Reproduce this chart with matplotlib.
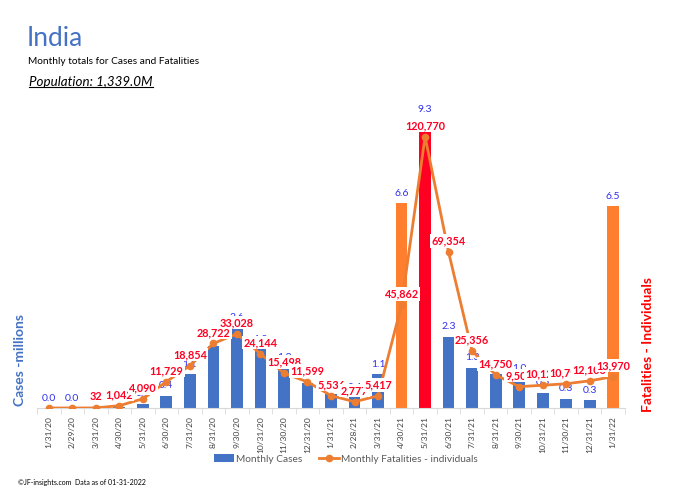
import numpy as np
import matplotlib
matplotlib.use('Agg')
import matplotlib.pyplot as plt
from matplotlib.lines import Line2D

plt.rcParams['font.family'] = ['Lato', 'DejaVu Sans']

# ================= data =================
months = ['1/31/20', '2/29/20', '3/31/20', '4/30/20', '5/31/20', '6/30/20',
          '7/31/20', '8/31/20', '9/30/20', '10/31/20', '11/30/20', '12/31/20',
          '1/31/21', '2/28/21', '3/31/21', '4/30/21', '5/31/21', '6/30/21',
          '7/31/21', '8/31/21', '9/30/21', '10/31/21', '11/30/21', '12/31/21',
          '1/31/22']
cases_m = [0.0, 0.0, 0.0, 0.03, 0.14, 0.4, 1.1, 2.0, 2.6, 1.9, 1.3, 0.8,
           0.45, 0.36, 1.1, 6.6, 9.3, 2.3, 1.3, 1.1, 0.96, 0.5, 0.3, 0.26, 6.5]
deaths = [0, 0, 32, 1042, 4090, 11729, 18854, 28722, 33028, 24144, 15498, 11599,
          5536, 2777, 5417, 45862, 120770, 69354, 25356, 14750, 9502, 10124,
          10794, 12103, 13970]
orange_months = ['4/30/21', '1/31/22']
red_months = ['5/31/21']

# ================= colours =================
BLUE = '#4472C4'
ORANGE_BAR = '#FF7F2F'
RED_BAR = '#FF0022'
LINE = '#ED7D31'
LBL_BLUE = '#3030F0'
LBL_RED = '#FF0022'

bar_colors = []
for m in months:
    if m in red_months:
        bar_colors.append(RED_BAR)
    elif m in orange_months:
        bar_colors.append(ORANGE_BAR)
    else:
        bar_colors.append(BLUE)

x = np.arange(len(months))

fig = plt.figure(figsize=(6.84, 4.96), dpi=100)
ax = fig.add_axes([37/684, 88/496, 588/684, 310/496])
ax2 = ax.twinx()
ax2.set_position([37/684, 88/496, 588/684, 310/496])

bars = ax.bar(x, cases_m, width=0.5, color=bar_colors, label='Monthly Cases', zorder=2)
for xi, v in zip(x, cases_m):
    ax.annotate(f'{v:.1f}', (xi, v), xytext=(0, 7), textcoords='offset points',
                ha='center', va='center', fontsize=7.5, color=LBL_BLUE, zorder=3)

line, = ax2.plot(x, deaths, color=LINE, lw=2, marker='o', markersize=4.5,
                 label='Monthly Fatalities - individuals', zorder=2)
for xi, v in zip(x, deaths):
    if v > 0:
        ax2.annotate(f'{v:,}', (xi, v), xytext=(0, 8), textcoords='offset points',
                     ha='center', va='center', fontsize=7.8, color=LBL_RED,
                     fontweight='bold', zorder=4,
                     bbox=dict(boxstyle='square,pad=0.12', fc='white', ec='none'))

ax.set_xlim(-0.5, len(months) - 0.5)
ax.set_ylim(0, 10)
ax2.set_ylim(0, 138000)

ax.set_xticks(x)
ax.set_xticklabels(months, rotation=90, fontsize=6.0, color='#404040')
ax.set_xticks(np.arange(-0.5, len(months), 1), minor=True)
ax.tick_params(axis='x', which='major', length=0, pad=6)
ax.tick_params(axis='x', which='minor', length=4, color='#D9D9D9')
ax.set_yticks([])
ax2.set_yticks([])
for a in (ax, ax2):
    for s in ('top', 'left', 'right'):
        a.spines[s].set_visible(False)
ax.spines['bottom'].set_color('#D9D9D9')
ax2.spines['bottom'].set_visible(False)

# ================= text =================
fig.text(27/684, 1 - 39/496, 'India', fontsize=19, color=BLUE, va='center', ha='left')
fig.text(28/684, 1 - 61/496, 'Monthly totals for Cases and Fatalities', fontsize=7.3,
         color='black', va='center', ha='left')
pop = fig.text(29/684, 1 - 82/496, 'Population: 1,339.0M', fontsize=9.6, style='italic',
               color='black', va='center', ha='left')

fig.text(20/684, 1 - 360/496, 'Cases -millions', rotation=90, fontsize=10,
         fontweight='bold', color=BLUE, va='center', ha='center')
fig.text(648/684, 1 - 344/496, 'Fatalities - Individuals', rotation=90, fontsize=10,
         fontweight='bold', color='#FF0000', va='center', ha='center')

fig.legend(handles=[bars, line], loc='center', bbox_to_anchor=(346/684, 1 - 459/496),
           ncol=2, frameon=False, fontsize=7.3, labelcolor='#595959',
           handlelength=2.0, handletextpad=0.2, columnspacing=1.6)

fig.text(18/684, 1 - 483/496, '\u00a9JF-insights.com  Data as of 01-31-2022',
         fontsize=5, color='black', va='center', ha='left')

# underline for the population line
fig.canvas.draw()
bb = pop.get_window_extent().transformed(fig.transFigure.inverted())
fig.add_artist(Line2D([bb.x0, bb.x1], [bb.y0 + 0.002, bb.y0 + 0.002],
                      transform=fig.transFigure, color='black', lw=0.8))

fig.savefig('out.png', dpi=100)
